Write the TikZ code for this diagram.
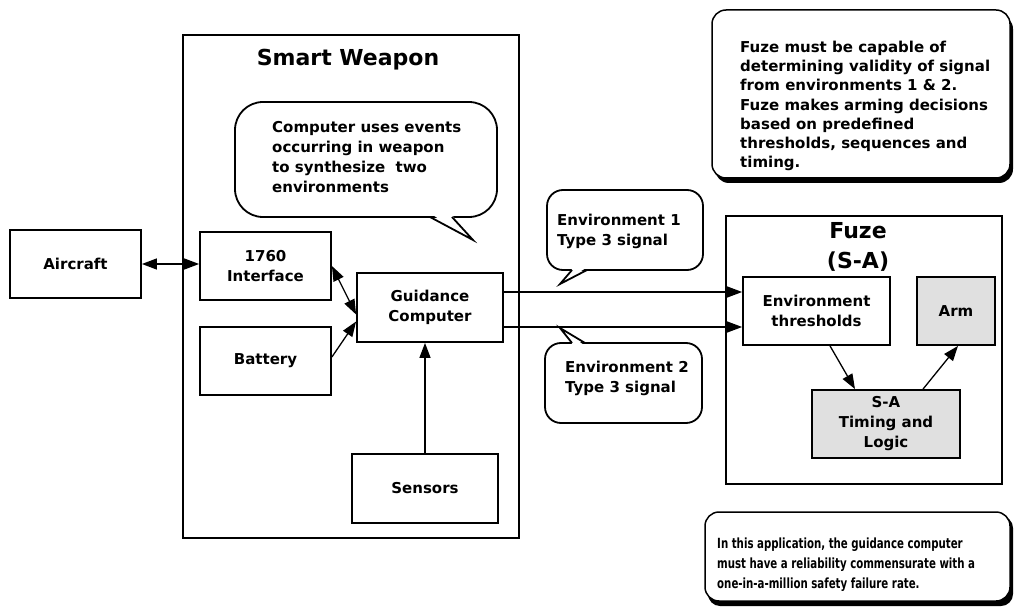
\documentclass[tikz,border=0pt]{standalone}
\usepackage{fontspec}
\setmainfont{DejaVu Sans}
\newfontfamily\condfont{DejaVu Sans}[FakeStretch=0.73]
\usetikzlibrary{arrows.meta}
\begin{document}
\begin{tikzpicture}[x=1pt,y=-1pt,
  every node/.style={inner sep=0pt, font=\bfseries\fontsize{15}{20}\selectfont},
  box/.style 2 args={draw, line width=1.8pt, minimum width=#1pt, minimum height=#2pt, align=center},
  shadedbox/.style 2 args={box={#1}{#2}, fill=black!12},
  frame/.style 2 args={draw, line width=1.8pt, minimum width=#1pt, minimum height=#2pt},
  title/.style={font=\bfseries\fontsize{22}{30}\selectfont, align=center},
  bubble/.style n args={3}{draw, line width=1.8pt, fill=white, rounded corners=#3pt, minimum width=#1pt, minimum height=#2pt},
  btext/.style={align=left, anchor=west},
  note/.style 2 args={draw, line width=1.5pt, fill=white, rounded corners=14pt, minimum width=#1pt, minimum height=#2pt},
  conn/.style={line width=1.3pt},
  sig/.style={line width=1.1pt},
  >={Triangle[length=15pt,width=11pt]}
]
\useasboundingbox (0,0) rectangle (1014,612);

% Smart Weapon frame
\node[frame={336}{503}] (sw) at (351,286.5) {};
\node[title] (swt) at (348,60) {Smart Weapon};

% Fuze frame
\node[frame={276}{268}] (fz) at (864,350) {};
\node[title] (fzt) at (858,247) {Fuze\\(S-A)};

% blocks
\node[box={131}{68}] (ac) at (75.5,264) {Aircraft};
\node[box={131}{68}] (if) at (265.5,266) {1760\\Interface};
\node[box={131}{68}] (bt) at (265.5,361) {Battery};
\node[box={146}{69}] (gc) at (430,307.5) {Guidance\\Computer};
\node[box={146}{69}] (sn) at (425,488.5) {Sensors};
\node[box={147}{68}] (et) at (816.5,311) {Environment\\thresholds};
\node[shadedbox={78}{68}] (arm) at (956,311) {Arm};
\node[shadedbox={148}{68}] (sa) at (886,424) {S-A\\Timing and\\Logic};

% connectors
\draw[conn,<->] (ac.east) -- (ac.east -| if.west);
\draw[conn,<->] (if.east) -- ([yshift=-7pt]gc.west);
\draw[conn,->] ([yshift=4pt]bt.east) -- ([yshift=-14pt]gc.west);
\draw[conn,->] (sn.north) -- (sn.north |- gc.south);
\draw[sig,->] ([yshift=15.5pt]gc.east) -- ([yshift=15.5pt]gc.east -| et.west);
\draw[sig,->] ([yshift=-19.5pt]gc.east) -- ([yshift=-19.5pt]gc.east -| et.west);
\draw[conn,->] ([xshift=13.5pt]et.south) -- ([xshift=-31pt]sa.north);
\draw[conn,->] ([xshift=37pt]sa.north) -- ([xshift=2pt]arm.south);

% speech bubbles
\node[bubble={262}{115}{28}] (b1) at (366,159.5) {};
\fill[white] (431,214) -- (451,214) -- (472,239) -- cycle;
\draw[line width=1.8pt, line join=miter] (430,217) -- (473,240) -- (452,217);
\node[btext] (b1t) at (272,157) {Computer uses events\\occurring in weapon\\to synthesize\ \ two\\environments};

\node[bubble={156}{80}{16}] (b2) at (625,230) {};
\fill[white] (573,268) -- (586,268) -- (561,283) -- cycle;
\draw[line width=1.8pt] (572,270) -- (560,284) -- (587,270);
\node[btext] (b2t) at (557,231) {Environment 1\\Type 3 signal};

\node[bubble={157}{80}{16}] (b3) at (623.5,383) {};
\fill[white] (573,345) -- (584,345) -- (561,329) -- cycle;
\draw[line width=1.8pt] (572,343) -- (560,328) -- (585,343);
\node[btext] (b3t) at (565,378) {Environment 2\\Type 3 signal};

% notes with shadows
\fill[rounded corners=14pt] (715,15) rectangle (1013,183);
\node[note={298}{168}] (n1) at (861,94) {};
\node[btext, font=\bfseries\fontsize{15}{19.2}\selectfont] (n1t) at (740,106) {Fuze must be capable of\\determining validity of signal\\from environments 1 \& 2.\\Fuze makes arming decisions\\based on predefined\\thresholds, sequences and\\timing.};

\fill[rounded corners=12pt] (708,516) rectangle (1013,606);
\node[note={305}{89}] (n2) at (857.5,556.5) {};
\node[btext, font=\condfont\bfseries\fontsize{14}{20}\selectfont] (n2t) at (717,565) {In this application, the guidance computer\\must have a reliability commensurate with a\\one-in-a-million safety failure rate.};
\end{tikzpicture}
\end{document}
